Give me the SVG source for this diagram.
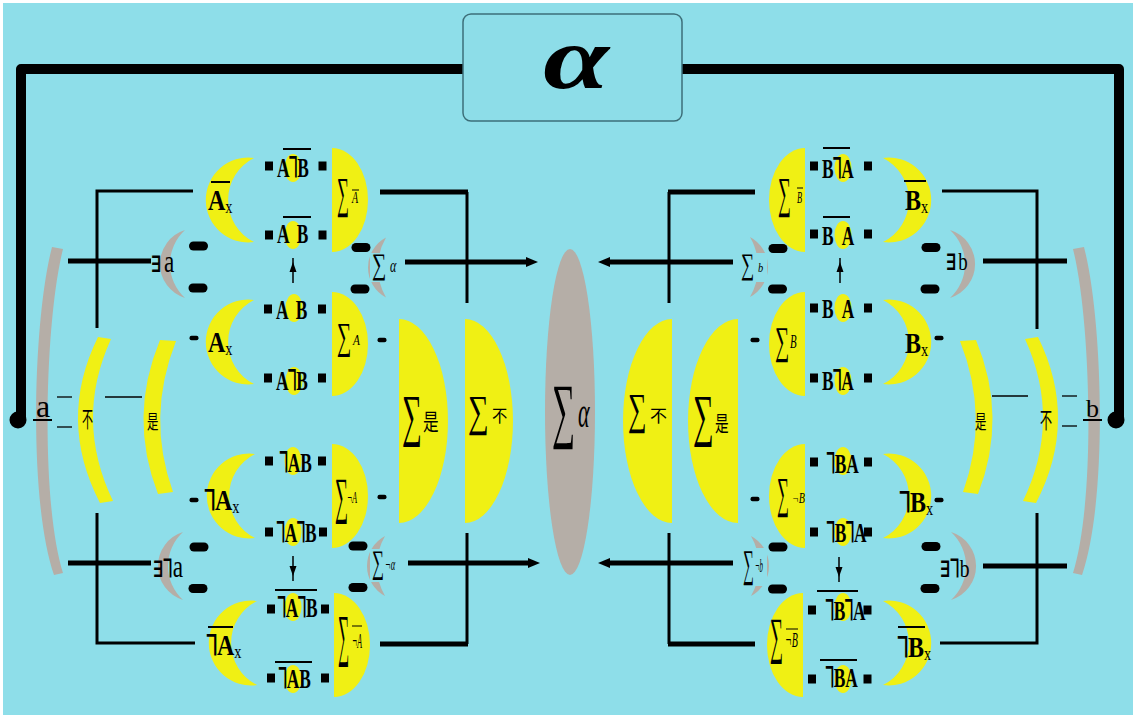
<svg xmlns="http://www.w3.org/2000/svg" width="1136" height="719" viewBox="0 0 1136 719">
<style>
.bg{fill:#8EDEE9}
.y{fill:#F0F014}
.g{fill:#B5AEA7}
.th{stroke:#000;stroke-width:3;fill:none}
.tk{stroke:#000;stroke-width:5;fill:none}
.hair{stroke:#000;stroke-width:1.3;fill:none}
.ol{stroke:#000;stroke-width:2}
.ol1{stroke:#000;stroke-width:1}
.t{font-family:"Liberation Serif","DejaVu Serif",serif;fill:#000}
.lb{font-family:"Liberation Serif",serif;font-size:28px;font-weight:bold;fill:#000}
.ng{font-family:"DejaVu Sans Mono",monospace;font-size:34px;font-weight:normal}
.cl{font-family:"Liberation Serif",serif;font-size:30px;font-weight:bold;fill:#000}
.sub{font-size:18px;font-weight:normal}
.it{font-family:"Liberation Serif",serif;font-style:italic;fill:#000}
.cj{font-family:"Noto Sans CJK SC",sans-serif;fill:#000}
.ex{font-family:"DejaVu Serif",serif;font-weight:bold;font-size:23px}
</style>
<defs>
<path id="cres" d="M0,-42 A42.4,42.4 0 1 0 0,42 A47,47 0 0 1 0,-42 Z"/>
<path id="gcr" d="M0,-34 A35.6,35.6 0 0 0 0,34 A46,46 0 0 1 0,-34 Z"/>
<path id="gsm" d="M0,-30 A34,34 0 0 0 0,30 A60,60 0 0 1 0,-30 Z"/>
<path id="dsh" d="M0,-52 A36,52 0 0 1 0,52 Z"/>
<rect id="pill" x="-9.5" y="-4.5" width="19" height="9" rx="4.5"/>
<rect id="sq" x="-4" y="-4.5" width="8" height="9"/>
<ellipse id="blob" rx="8.5" ry="14"/>
<rect id="dash" x="-4.5" y="-2.2" width="9" height="4.4" rx="2"/>
<marker id="ah" viewBox="0 0 12 10" refX="2" refY="5" markerWidth="12" markerHeight="10" markerUnits="userSpaceOnUse" orient="auto"><path d="M0,0 L12,5 L0,10 Z"/></marker>
</defs>
<rect width="1136" height="719" fill="#fff"/>
<rect class="bg" x="3" y="3" width="1130" height="712"/>

<g id="connectors">
<path d="M21,420 V69 H463" stroke="#000" stroke-width="10" fill="none" stroke-linejoin="round"/>
<path d="M682,69 H1119 V420" stroke="#000" stroke-width="10" fill="none" stroke-linejoin="round"/>
<circle cx="18" cy="420" r="8.5"/>
<circle cx="1116" cy="420" r="8.5"/>
<polyline class="th" points="193,191 97,191 97,328"/>
<line class="tk" x1="68" y1="261" x2="151" y2="261"/>
<polyline class="th" points="97,513 97,643 195,643"/>
<line class="tk" x1="68" y1="563" x2="151" y2="563"/>
<line class="tk" x1="380" y1="192" x2="468" y2="192"/>
<line class="th" x1="467" y1="192" x2="467" y2="303"/>
<line class="tk" x1="405" y1="262" x2="528" y2="262" marker-end="url(#ah)"/>
<line class="th" x1="467" y1="533" x2="467" y2="644"/>
<line class="tk" x1="380" y1="644" x2="468" y2="644"/>
<line class="tk" x1="408" y1="563" x2="530" y2="563" marker-end="url(#ah)"/>
<line class="hair" x1="57" y1="397" x2="72" y2="397"/>
<line class="hair" x1="57" y1="427" x2="72" y2="427"/>
<line class="hair" x1="105" y1="397" x2="142" y2="397"/>
<line stroke="#000" stroke-width="1.5" x1="293" y1="258" x2="293" y2="283"/>
<polygon points="293,262 289.5,272 296.5,272"/>
<line stroke="#000" stroke-width="1.5" x1="293" y1="556" x2="293" y2="581"/>
<polygon points="293,576 289.5,566 296.5,566"/>
<polyline class="th" points="942,191 1037,191 1037,329"/>
<line class="tk" x1="983" y1="261" x2="1067" y2="261"/>
<polyline class="th" points="1037,513 1037,643 940,643"/>
<line class="tk" x1="983" y1="566" x2="1067" y2="566"/>
<line class="tk" x1="755" y1="192" x2="668" y2="192"/>
<line class="th" x1="669" y1="192" x2="669" y2="303"/>
<line class="tk" x1="733" y1="262" x2="608" y2="262" marker-end="url(#ah)"/>
<line class="th" x1="669" y1="533" x2="669" y2="644"/>
<line class="tk" x1="755" y1="644" x2="668" y2="644"/>
<line class="tk" x1="733" y1="563" x2="608" y2="563" marker-end="url(#ah)"/>
<line class="hair" x1="992" y1="396" x2="1028" y2="396"/>
<line class="hair" x1="1062" y1="396" x2="1077" y2="396"/>
<line class="hair" x1="1062" y1="426" x2="1077" y2="426"/>
<line stroke="#000" stroke-width="1.5" x1="840" y1="258" x2="840" y2="283"/>
<polygon points="840,262 836.5,272 843.5,272"/>
<line stroke="#000" stroke-width="1.5" x1="839" y1="557" x2="839" y2="582"/>
<polygon points="839,577 835.5,567 842.5,567"/>
<use href="#dash" x="194" y="338"/>
<use href="#dash" x="194" y="500"/>
<use href="#dash" x="382" y="340"/>
<use href="#dash" x="382" y="497"/>
<use href="#dash" x="939" y="338"/>
<use href="#dash" x="939" y="500"/>
<use href="#dash" x="755" y="340"/>
<use href="#dash" x="755" y="499"/>
</g>

<g id="n-alpha">
<rect x="463" y="14" width="219" height="107" rx="8" fill="#8DDDE8" stroke="#3D6F79" stroke-width="1.5"/>
<text class="t" font-size="88" font-weight="bold" font-style="italic" text-anchor="middle" transform="translate(576,88) scale(1.35,1)">α</text>
</g>

<!-- LEFT SIDE -->
<g id="n-a">
<path class="g" d="M52,247 C33,320 28,500 54,575 L63,573 C40,500 45,320 63,249 Z"/>
<text class="t" font-size="32" x="36" y="417">a</text>
<line class="ol" x1="33" y1="420" x2="52" y2="420"/>
</g>
<g id="n-bu-a">
<path class="y" d="M98,337 Q57,420 100,503 L113,501 Q74,420 111,339 Z"/>
<text class="cj" font-size="22" transform="translate(82,427) scale(0.5,1)">不</text>
</g>
<g id="n-shi-a">
<path class="y" d="M160,340 Q128,417 158,494 L173,492 Q146,417 176,341 Z"/>
<text class="cj" font-size="19" transform="translate(147,429) scale(0.6,1)">是</text>
</g>
<g id="n-ex-a">
<use href="#gcr" class="g" transform="translate(185,264)"/>
<use href="#pill" x="198.5" y="246"/>
<use href="#pill" x="198" y="288"/>
<text transform="translate(151,272) scale(0.75,1)"><tspan class="ex">∃</tspan><tspan class="t" font-size="31" dx="3">a</tspan></text>
</g>
<g id="n-ex-na">
<use href="#gcr" class="g" transform="translate(183,566)"/>
<use href="#pill" x="199" y="547"/>
<use href="#pill" x="198" y="588.5"/>
<text transform="translate(153,577) scale(0.75,1)"><tspan class="ex">∃</tspan><tspan class="ng" style="font-size:30px" dy="-7">┐</tspan><tspan class="t" font-size="31" dy="7" dx="-6">a</tspan></text>
</g>
<g id="n-Abar-x">
<use href="#cres" class="y" transform="translate(254,200)"/>
<text class="cl" transform="translate(208,210) scale(0.8,1)">A<tspan class="sub" dy="3">x</tspan></text>
<line class="ol" x1="211" y1="182" x2="230" y2="182"/>
</g>
<g id="n-A-x">
<use href="#cres" class="y" transform="translate(254,342)"/>
<text class="cl" transform="translate(208,352) scale(0.8,1)">A<tspan class="sub" dy="3">x</tspan></text>
</g>
<g id="n-nA-x">
<use href="#cres" class="y" transform="translate(255,496)"/>
<text class="cl" transform="translate(205,510) scale(0.8,1)"><tspan class="ng" dy="-8">┐</tspan><tspan dy="8" dx="-8">A</tspan><tspan class="sub" dy="3">x</tspan></text>
</g>
<g id="n-nAbar-x">
<use href="#cres" class="y" transform="translate(257,643)"/>
<text class="cl" transform="translate(207,655) scale(0.8,1)"><tspan class="ng" dy="-8">┐</tspan><tspan dy="8" dx="-8">A</tspan><tspan class="sub" dy="3">x</tspan></text>
<line class="ol" x1="208" y1="627" x2="233" y2="627"/>
</g>

<g id="n-L1">
<use href="#blob" class="y" x="293" y="168"/>
<use href="#sq" x="269" y="166"/><use href="#sq" x="322.5" y="166"/>
<text class="lb" transform="translate(277,177) scale(0.62,1)">A<tspan class="ng" dy="-8">┐</tspan><tspan dy="8" dx="-8">B</tspan></text>
<line class="ol" x1="283" y1="149" x2="311" y2="149"/>
</g>
<g id="n-L2">
<use href="#blob" class="y" x="293" y="235"/>
<use href="#sq" x="269" y="235"/><use href="#sq" x="322.5" y="235"/>
<text class="lb" transform="translate(277,243) scale(0.62,1)">A <tspan dx="6">B</tspan></text>
<line class="ol" x1="283" y1="217" x2="311" y2="217"/>
</g>
<g id="n-L3">
<use href="#blob" class="y" x="294" y="308"/>
<use href="#sq" x="268" y="309"/><use href="#sq" x="322" y="309"/>
<text class="lb" transform="translate(276,319) scale(0.62,1)">A <tspan dx="6">B</tspan></text>
</g>
<g id="n-L4">
<use href="#blob" class="y" x="294" y="381"/>
<use href="#sq" x="268" y="378"/><use href="#sq" x="322" y="378"/>
<text class="lb" transform="translate(276,390) scale(0.62,1)">A<tspan class="ng" dy="-8">┐</tspan><tspan dy="8" dx="-8">B</tspan></text>
</g>
<g id="n-L5">
<use href="#blob" class="y" x="293" y="461"/>
<use href="#sq" x="269" y="461"/><use href="#sq" x="322" y="461"/>
<text class="lb" transform="translate(280,472) scale(0.62,1)"><tspan class="ng" dy="-8">┐</tspan><tspan dy="8" dx="-8">A</tspan>B</text>
</g>
<g id="n-L6">
<use href="#blob" class="y" x="293" y="532"/>
<use href="#sq" x="269" y="532"/><use href="#sq" x="323" y="532"/>
<text class="lb" transform="translate(277,542) scale(0.62,1)"><tspan class="ng" dy="-8">┐</tspan><tspan dy="8" dx="-8">A</tspan><tspan class="ng" dy="-8">┐</tspan><tspan dy="8" dx="-8">B</tspan></text>
</g>
<g id="n-L7">
<use href="#blob" class="y" x="293" y="607"/>
<use href="#sq" x="271" y="609"/><use href="#sq" x="325" y="609"/>
<text class="lb" transform="translate(278,617) scale(0.62,1)"><tspan class="ng" dy="-8">┐</tspan><tspan dy="8" dx="-8">A</tspan><tspan class="ng" dy="-8">┐</tspan><tspan dy="8" dx="-8">B</tspan></text>
<line class="ol" x1="275" y1="590" x2="317" y2="590"/>
</g>
<g id="n-L8">
<use href="#blob" class="y" x="293" y="679"/>
<use href="#sq" x="271" y="678"/><use href="#sq" x="325" y="678"/>
<text class="lb" transform="translate(279,688) scale(0.62,1)"><tspan class="ng" dy="-8">┐</tspan><tspan dy="8" dx="-8">A</tspan>B</text>
<line class="ol" x1="275" y1="662" x2="312" y2="662"/>
</g>

<g id="n-sum-Abar">
<use href="#dsh" class="y" transform="translate(332,200)"/>
<text class="t" font-size="44" transform="translate(337,208) scale(0.38,1)">∑</text>
<text class="it" font-size="16.6" transform="translate(352,203) scale(0.6,1)">A</text>
<line class="ol1" x1="352" y1="190" x2="359" y2="190"/>
</g>
<g id="n-sum-A">
<use href="#dsh" class="y" transform="translate(332,344)"/>
<text class="t" font-size="38" transform="translate(337,349.4) scale(0.53,1)">∑</text>
<text class="it" font-size="15" transform="translate(353,345) scale(0.75,1)">A</text>
</g>
<g id="n-sum-nA">
<use href="#dsh" class="y" transform="translate(332,496)"/>
<text class="t" font-size="51" transform="translate(335,512.8) scale(0.36,1)">∑</text>
<text class="it" font-size="16" transform="translate(347,503) scale(0.49,1)">¬A</text>
</g>
<g id="n-sum-nAbar">
<use href="#dsh" class="y" transform="translate(334,645)"/>
<text class="t" font-size="58" transform="translate(338,655.4) scale(0.27,1)">∑</text>
<text class="it" font-size="20" transform="translate(352,648) scale(0.39,1)">¬A</text>
<line class="ol1" x1="352" y1="626" x2="362" y2="626"/>
</g>
<g id="n-sum-alpha">
<use href="#gsm" class="g" transform="translate(386,267.5)"/>
<rect class="bg" x="370" y="253" width="28" height="29"/>
<use href="#pill" x="361" y="247.5"/>
<use href="#pill" x="360" y="289"/>
<text class="t" font-size="30" transform="translate(372,274) scale(0.67,1)">∑</text>
<text class="it" font-size="18" transform="translate(390,272) scale(0.67,1)">α</text>
</g>
<g id="n-sum-nalpha">
<use href="#gsm" class="g" transform="translate(385,566)"/>
<rect class="bg" x="370" y="549" width="28" height="33"/>
<use href="#pill" x="358" y="546"/>
<use href="#pill" x="358" y="587.5"/>
<text class="t" font-size="33" transform="translate(372,573.3) scale(0.51,1)">∑</text>
<text class="it" font-size="16" transform="translate(385,570) scale(0.53,1)">¬α</text>
</g>
<g id="n-sum-shi-a">
<path class="y" d="M399,319 A49,102 0 0 1 399,523 Z"/>
<text class="t" font-size="58" transform="translate(402,435.4) scale(0.48,1)">∑</text>
<text class="cj" font-size="23" transform="translate(423,430.4) scale(0.68,1)">是</text>
</g>
<g id="n-sum-bu-a">
<path class="y" d="M465,319 A48,102 0 0 1 465,523 Z"/>
<text class="t" font-size="44" transform="translate(468,426) scale(0.66,1)">∑</text>
<text class="cj" font-size="17" transform="translate(492,421.5) scale(0.9,1)">不</text>
</g>

<g id="n-sum-alpha-center">
<ellipse class="g" cx="570" cy="412" rx="25" ry="163"/>
<text class="t" font-size="72" transform="translate(552,433.6) scale(0.45,1)">∑</text>
<text class="it" font-size="44" transform="translate(578,427) scale(0.5,1)">α</text>
</g>

<!-- RIGHT SIDE -->
<g id="n-sum-bu-b">
<path class="y" d="M672,319 A49,102 0 0 0 672,523 Z"/>
<text class="t" font-size="44" transform="translate(628,424) scale(0.59,1)">∑</text>
<text class="cj" font-size="17" transform="translate(650,421.5)">不</text>
</g>
<g id="n-sum-shi-b">
<path class="y" d="M738,319 A50,102 0 0 0 738,523 Z"/>
<text class="t" font-size="58" transform="translate(693,435.4) scale(0.5,1)">∑</text>
<text class="cj" font-size="21" transform="translate(715,430.5) scale(0.65,1)">是</text>
</g>
<g id="n-sum-b">
<use href="#gsm" class="g" transform="translate(750,267) scale(-1,1)"/>
<rect class="bg" x="739" y="253" width="28" height="29"/>
<use href="#pill" x="778" y="248.5"/>
<use href="#pill" x="777.5" y="289"/>
<text class="t" font-size="30" transform="translate(741,274) scale(0.62,1)">∑</text>
<text class="it" font-size="13" transform="translate(758,272) scale(0.8,1)">b</text>
</g>
<g id="n-sum-nb">
<use href="#gsm" class="g" transform="translate(751,566) scale(-1,1)"/>
<rect class="bg" x="740" y="548" width="27" height="38"/>
<use href="#pill" x="778" y="547"/>
<use href="#pill" x="777.5" y="589"/>
<text class="t" font-size="39" transform="translate(743,577) scale(0.39,1)">∑</text>
<text class="it" font-size="18" transform="translate(755,572) scale(0.38,1)">¬b</text>
</g>
<g id="n-sum-Bbar">
<use href="#dsh" class="y" transform="translate(805,200) scale(-1,1)"/>
<text class="t" font-size="44" transform="translate(778,208) scale(0.41,1)">∑</text>
<text class="it" font-size="16.6" transform="translate(797,203) scale(0.5,1)">B</text>
<line class="ol1" x1="797" y1="188" x2="803" y2="188"/>
</g>
<g id="n-sum-B">
<use href="#dsh" class="y" transform="translate(805,344) scale(-1,1)"/>
<text class="t" font-size="39" transform="translate(775,354.2) scale(0.51,1)">∑</text>
<text class="it" font-size="18" transform="translate(790,348) scale(0.6,1)">B</text>
</g>
<g id="n-sum-nB">
<use href="#dsh" class="y" transform="translate(805,496) scale(-1,1)"/>
<text class="t" font-size="44" transform="translate(777,508) scale(0.38,1)">∑</text>
<text class="it" font-size="15" transform="translate(792,503) scale(0.67,1)">¬B</text>
</g>
<g id="n-sum-nBbar">
<use href="#dsh" class="y" transform="translate(803,645) scale(-1,1)"/>
<text class="t" font-size="51" transform="translate(770,652.8) scale(0.36,1)">∑</text>
<text class="it" font-size="20" transform="translate(785,647) scale(0.5,1)">¬B</text>
<line class="ol1" x1="786" y1="629" x2="798" y2="629"/>
</g>

<g id="n-R1">
<use href="#blob" class="y" x="843" y="168"/>
<use href="#sq" x="814" y="166"/><use href="#sq" x="868" y="166"/>
<text class="lb" transform="translate(822,178) scale(0.62,1)">B<tspan class="ng" dy="-8">┐</tspan><tspan dy="8" dx="-8">A</tspan></text>
<line class="ol" x1="823" y1="148" x2="850" y2="148"/>
</g>
<g id="n-R2">
<use href="#blob" class="y" x="843" y="235"/>
<use href="#sq" x="814" y="234"/><use href="#sq" x="868" y="234"/>
<text class="lb" transform="translate(822,245) scale(0.62,1)">B <tspan dx="6">A</tspan></text>
<line class="ol" x1="823" y1="217" x2="850" y2="217"/>
</g>
<g id="n-R3">
<use href="#blob" class="y" x="843" y="308"/>
<use href="#sq" x="814" y="308"/><use href="#sq" x="868" y="308"/>
<text class="lb" transform="translate(822,318) scale(0.62,1)">B <tspan dx="6">A</tspan></text>
</g>
<g id="n-R4">
<use href="#blob" class="y" x="843" y="381"/>
<use href="#sq" x="814" y="378"/><use href="#sq" x="868" y="378"/>
<text class="lb" transform="translate(822,390) scale(0.62,1)">B<tspan class="ng" dy="-8">┐</tspan><tspan dy="8" dx="-8">A</tspan></text>
</g>
<g id="n-R5">
<use href="#blob" class="y" x="843" y="461"/>
<use href="#sq" x="814" y="462"/><use href="#sq" x="868" y="462"/>
<text class="lb" transform="translate(827,473) scale(0.62,1)"><tspan class="ng" dy="-8">┐</tspan><tspan dy="8" dx="-8">B</tspan>A</text>
</g>
<g id="n-R6">
<use href="#blob" class="y" x="843" y="532"/>
<use href="#sq" x="814" y="532"/><use href="#sq" x="868" y="532"/>
<text class="lb" transform="translate(827,542) scale(0.62,1)"><tspan class="ng" dy="-8">┐</tspan><tspan dy="8" dx="-8">B</tspan><tspan class="ng" dy="-8">┐</tspan><tspan dy="8" dx="-8">A</tspan></text>
</g>
<g id="n-R7">
<use href="#blob" class="y" x="843" y="607"/>
<use href="#sq" x="812" y="610"/><use href="#sq" x="867.5" y="610"/>
<text class="lb" transform="translate(826,620) scale(0.62,1)"><tspan class="ng" dy="-8">┐</tspan><tspan dy="8" dx="-8">B</tspan><tspan class="ng" dy="-8">┐</tspan><tspan dy="8" dx="-8">A</tspan></text>
<line class="ol" x1="817" y1="591" x2="858" y2="591"/>
</g>
<g id="n-R8">
<use href="#blob" class="y" x="843" y="679"/>
<use href="#sq" x="812" y="679"/><use href="#sq" x="867.5" y="679"/>
<text class="lb" transform="translate(826,687) scale(0.62,1)"><tspan class="ng" dy="-8">┐</tspan><tspan dy="8" dx="-8">B</tspan>A</text>
<line class="ol" x1="820" y1="660" x2="857" y2="660"/>
</g>

<g id="n-Bbar-x">
<use href="#cres" class="y" transform="translate(883,200) scale(-1,1)"/>
<text class="cl" transform="translate(905,210) scale(0.8,1)">B<tspan class="sub" dy="3">x</tspan></text>
<line class="ol" x1="904" y1="181" x2="926" y2="181"/>
</g>
<g id="n-B-x">
<use href="#cres" class="y" transform="translate(883,342) scale(-1,1)"/>
<text class="cl" transform="translate(905,353) scale(0.8,1)">B<tspan class="sub" dy="3">x</tspan></text>
</g>
<g id="n-nB-x">
<use href="#cres" class="y" transform="translate(883,496) scale(-1,1)"/>
<text class="cl" transform="translate(900,512) scale(0.8,1)"><tspan class="ng" dy="-8">┐</tspan><tspan dy="8" dx="-8">B</tspan><tspan class="sub" dy="3">x</tspan></text>
</g>
<g id="n-nBbar-x">
<use href="#cres" class="y" transform="translate(883,643) scale(-1,1)"/>
<text class="cl" transform="translate(898,657) scale(0.8,1)"><tspan class="ng" dy="-8">┐</tspan><tspan dy="8" dx="-8">B</tspan><tspan class="sub" dy="3">x</tspan></text>
<line class="ol" x1="898" y1="627" x2="925" y2="627"/>
</g>
<g id="n-ex-b">
<use href="#gcr" class="g" transform="translate(950,264) scale(-1,1)"/>
<use href="#pill" x="931" y="247.5"/>
<use href="#pill" x="930" y="289"/>
<text transform="translate(946,270) scale(0.75,1)"><tspan class="ex">∃</tspan><tspan class="t" font-size="25" dx="2">b</tspan></text>
</g>
<g id="n-ex-nb">
<use href="#gcr" class="g" transform="translate(951,566) scale(-1,1)"/>
<use href="#pill" x="931" y="546.5"/>
<use href="#pill" x="930" y="588.5"/>
<text transform="translate(940,577) scale(0.75,1)"><tspan class="ex">∃</tspan><tspan class="ng" style="font-size:30px" dy="-7">┐</tspan><tspan class="t" font-size="26" dy="7" dx="-6">b</tspan></text>
</g>
<g id="n-shi-b">
<path class="y" transform="matrix(-1,0,0,1,1136,0)" d="M160,340 Q128,417 158,494 L173,492 Q146,417 176,341 Z"/>
<text class="cj" font-size="19" transform="translate(975,429) scale(0.6,1)">是</text>
</g>
<g id="n-bu-b">
<path class="y" transform="matrix(-1,0,0,1,1136,0)" d="M98,337 Q57,420 100,503 L113,501 Q74,420 111,339 Z"/>
<text class="cj" font-size="22" transform="translate(1040,428) scale(0.55,1)">不</text>
</g>
<g id="n-b">
<path class="g" transform="matrix(-1,0,0,1,1136,0)" d="M52,247 C33,320 28,500 54,575 L63,573 C40,500 45,320 63,249 Z"/>
<text class="t" font-size="26" x="1086" y="417">b</text>
<line class="ol" x1="1083" y1="420" x2="1102" y2="420"/>
</g>
</svg>
